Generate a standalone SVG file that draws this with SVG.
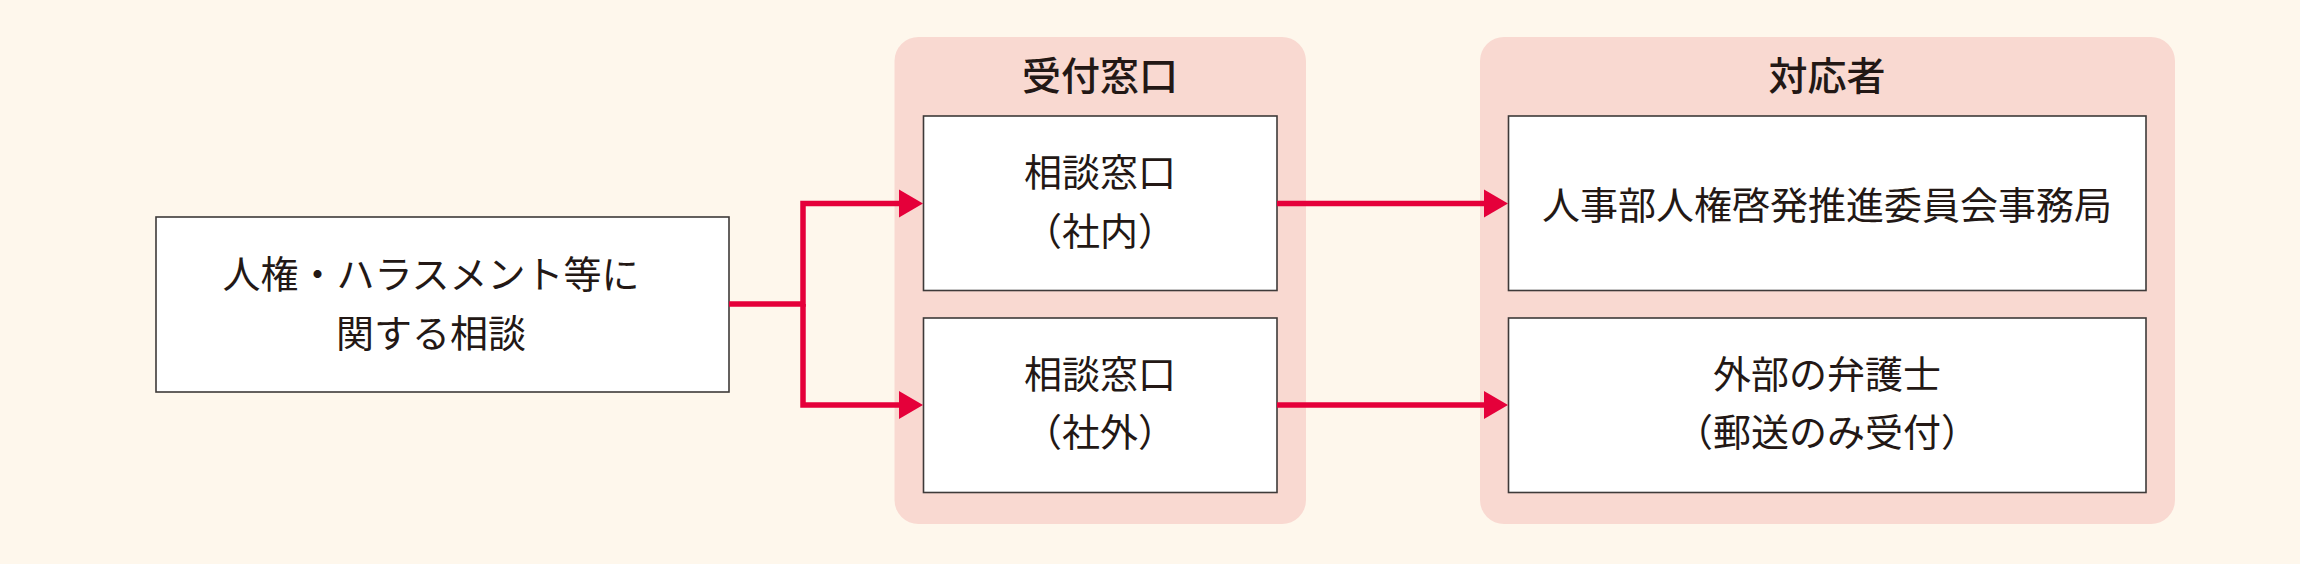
<svg xmlns="http://www.w3.org/2000/svg" width="2300" height="564" viewBox="0 0 2300 564">
  <style>
    .bg { fill: #FEF7EC; }
    .panel { fill: #F9D9D1; }
    .box { fill: #FFFFFF; stroke: #3E3A39; stroke-width: 1.6; }
    .t { font-family: "Noto Sans CJK JP", "Noto Sans", sans-serif; font-size: 38px; fill: #231815; text-anchor: middle; }
    .title { font-weight: 500; font-size: 39px; }
    .conn { fill: none; stroke: #E5003A; stroke-width: 5.5; stroke-linejoin: miter; stroke-linecap: butt; }
  </style>
  <defs>
    <marker id="ah" markerUnits="userSpaceOnUse" markerWidth="24" markerHeight="28" refX="0" refY="14" orient="auto" overflow="visible">
      <path d="M0,0 L24,14 L0,28 Z" fill="#E5003A"/>
    </marker>
  </defs>
  <rect class="bg" x="0" y="0" width="2300" height="564"/>

  <g id="source">
    <rect class="box" x="156" y="217" width="573" height="175"/>
    <text class="t" x="431" y="288">人権・ハラスメント等に</text>
    <text class="t" x="431" y="347">関する相談</text>
  </g>

  <g id="reception">
    <rect class="panel" x="894.5" y="37" width="411.5" height="487" rx="24" ry="24"/>
    <text class="t title" x="1100" y="90">受付窓口</text>
  </g>
  <g id="internal">
    <rect class="box" x="923.5" y="116" width="353.5" height="174.5"/>
    <text class="t" x="1100" y="186">相談窓口</text>
    <text class="t" x="1100" y="245">（社内）</text>
  </g>
  <g id="external">
    <rect class="box" x="923.5" y="318" width="353.5" height="174.5"/>
    <text class="t" x="1100" y="388">相談窓口</text>
    <text class="t" x="1100" y="446">（社外）</text>
  </g>

  <g id="responders">
    <rect class="panel" x="1480" y="37" width="695" height="487" rx="24" ry="24"/>
    <text class="t title" x="1827" y="90">対応者</text>
  </g>
  <g id="hr">
    <rect class="box" x="1508.5" y="116" width="637.5" height="174.5"/>
    <text class="t" x="1827" y="218.5">人事部人権啓発推進委員会事務局</text>
  </g>
  <g id="lawyer">
    <rect class="box" x="1508.5" y="318" width="637.5" height="174.5"/>
    <text class="t" x="1827" y="388">外部の弁護士</text>
    <text class="t" x="1827" y="446">（郵送のみ受付）</text>
  </g>

  <g id="connectors">
    <path class="conn" d="M729,304 H803 V203.5 H899" marker-end="url(#ah)"/>
    <path class="conn" d="M803,304 V405 H899" marker-end="url(#ah)"/>
    <path class="conn" d="M1277,203.5 H1484" marker-end="url(#ah)"/>
    <path class="conn" d="M1277,405 H1484" marker-end="url(#ah)"/>
  </g>
</svg>
